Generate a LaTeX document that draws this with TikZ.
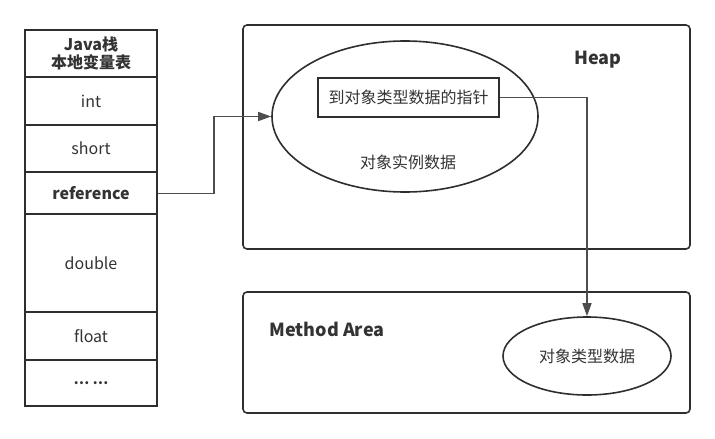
\documentclass[tikz,border=0pt]{standalone}
\usepackage{fontspec}
\setmainfont{Noto Sans CJK SC}
\usetikzlibrary{arrows.meta,shapes.geometric}
\definecolor{ink}{HTML}{2E2E2E}
\definecolor{txt}{HTML}{333333}
\tikzset{
  cell/.style={draw=ink,line width=1.6pt,minimum width=132pt,inner sep=0pt,text=txt,font=\fontsize{16}{18}\selectfont,align=center},
  region/.style={draw=ink,line width=1.6pt,rounded corners=4pt,inner sep=0pt},
  oval/.style={ellipse,draw=ink,line width=1.6pt,inner sep=0pt},
  lbl/.style={text=txt,font=\fontsize{16}{18}\selectfont},
  blbl/.style={text=txt,font=\fontsize{18}{20}\selectfont\bfseries},
  conn/.style={draw=ink!85,line width=1.5pt,-{Triangle[length=13pt,width=9pt]}}
}
\begin{document}
\begin{tikzpicture}[x=1pt,y=-1pt]
\useasboundingbox (0,0) rectangle (715,439);
% stack column
\node[cell,minimum height=47pt,font=\fontsize{16}{18}\selectfont\bfseries] (hdr) at (91,53.5) {Java栈\\本地变量表};
\node[cell,minimum height=48pt] (int) at (91,101) {int};
\node[cell,minimum height=47pt] (short) at (91,148.5) {short};
\node[cell,minimum height=42pt,font=\fontsize{16}{18}\selectfont\bfseries] (ref) at (91,193.5) {reference};
\node[cell,minimum height=98pt] (dbl) at (91,263) {double};
\node[cell,minimum height=48pt] (flt) at (91,336) {float};
\node[cell,minimum height=46pt,font=\fontsize{14}{16}\selectfont\bfseries] (dots) at (91,383) {… …};
% heap
\node[region,minimum width=447pt,minimum height=224pt] (heap) at (466.5,137) {};
\node[blbl] (heaplbl) at (598,60) {Heap};
\node[oval,minimum width=266pt,minimum height=151pt] (obj) at (405,116.5) {};
\node[draw=ink,line width=1.6pt,minimum width=181pt,minimum height=39pt,inner sep=0pt,lbl] (ptr) at (408.5,97.5) {到对象类型数据的指针};
\node[lbl] (inst) at (408,162) {对象实例数据};
% method area
\node[region,minimum width=447pt,minimum height=121pt] (meth) at (466.5,352.5) {};
\node[blbl] (methlbl) at (327,329) {Method Area};
\node[oval,minimum width=168pt,minimum height=78pt,lbl] (cls) at (587,356) {对象类型数据};
% connectors
\draw[conn] (ref.east) -- ++(56,0) |- (obj.west);
\draw[conn] (ptr.east) -| (cls.north);
\end{tikzpicture}
\end{document}
